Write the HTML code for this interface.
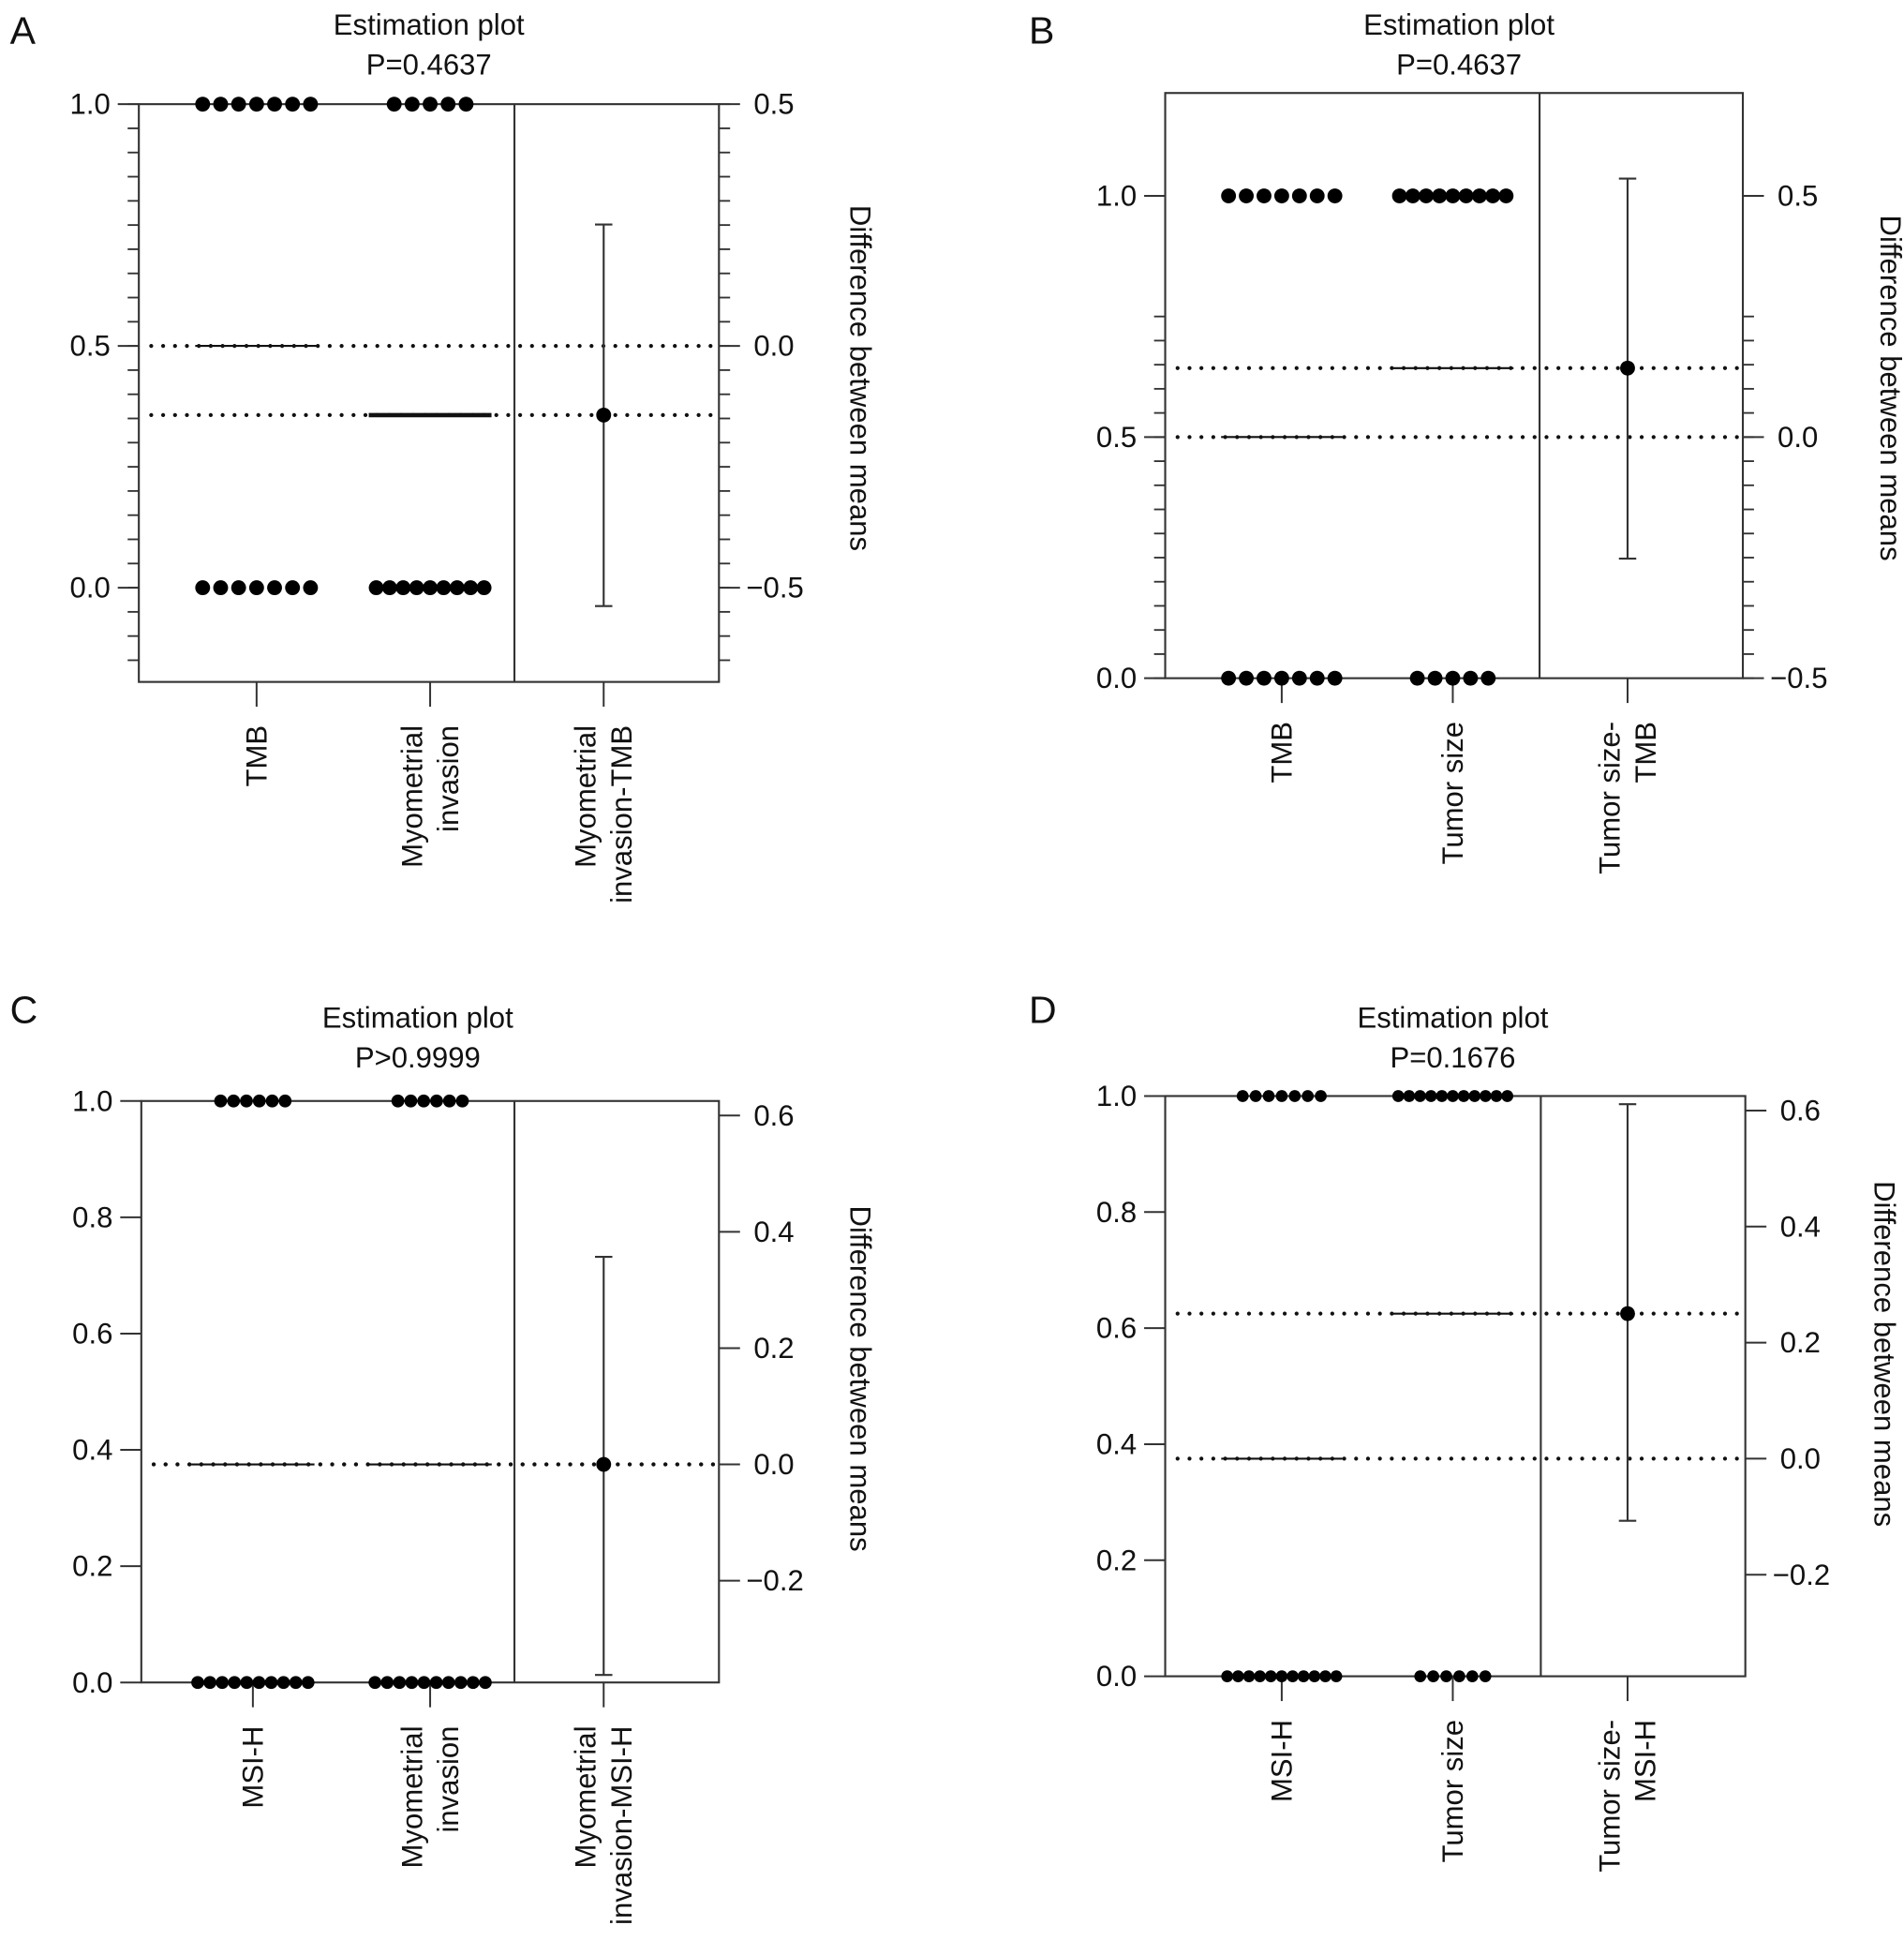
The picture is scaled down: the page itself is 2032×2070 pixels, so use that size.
<!DOCTYPE html>
<html><head><meta charset="utf-8"><style>
html,body{margin:0;padding:0;background:#fff;}
svg{display:block;font-family:"Liberation Sans",Arial,sans-serif;}
</style></head><body>
<svg id="fig" width="2032" height="2070" viewBox="0 0 1536 1564.7" xmlns="http://www.w3.org/2000/svg"></svg>
<script>
// ---- data ----
const panelLetters = ["A","B","C","D"];
const pValues = ["P=0.4637","P=0.4637","P>0.9999","P=0.1676"];
const groupNamesA = [["TMB"],["Myometrial","invasion"],["Myometrial","invasion-TMB"]];
const groupNamesB = [["TMB"],["Tumor size"],["Tumor size-","TMB"]];
const groupNamesC = [["MSI-H"],["Myometrial","invasion"],["Myometrial","invasion-MSI-H"]];
const groupNamesD = [["MSI-H"],["Tumor size"],["Tumor size-","MSI-H"]];
const onesA = [7,5], zerosA = [7,9];
const onesB = [7,9], zerosB = [7,5];
const onesC = [6,6], zerosC = [10,10];
const onesD = [7,11], zerosD = [11,6];
const meansA = [0.5,0.357], meansB = [0.5,0.643], meansC = [0.375,0.375], meansD = [0.375,0.625];
const diffA = [-0.143,-0.538,0.251];
const diffB = [0.143,-0.252,0.536];
const diffC = [0.0,-0.362,0.357];
const diffD = [0.25,-0.107,0.611];
const leftTicksAB = [0,0.5,1.0];
const leftTicksCD = [0,0.2,0.4,0.6,0.8,1.0];
const rightTicksAB = [-0.5,0,0.5];
const rightTicksCD = [-0.2,0,0.2,0.4,0.6];

// ---- layout ----
const layouts = [
 {L:112,R:580,M:415,T:84,B:550,vTop:1.0,vBot:0,yTop:84,yBot:474,off:0.5,minor:0.05,cx:[207,347,487],tx:346,ty:20,lx:8,ly:35,sp:14.5,mw:87,r:6,ax:686,ay:305,
  names:groupNamesA,ones:onesA,zeros:zerosA,means:meansA,diff:diffA,lt:leftTicksAB,rt:rightTicksAB},
 {L:940,R:1406,M:1242,T:75,B:547,vTop:1.0,vBot:0,yTop:158,yBot:547,off:0.5,minor:0.05,cx:[1034,1172,1313],tx:1177,ty:20,lx:830,ly:35,sp:14.3,mw:86,r:6,ax:1517,ay:313,
  names:groupNamesB,ones:onesB,zeros:zerosB,means:meansB,diff:diffB,lt:leftTicksAB,rt:rightTicksAB},
 {L:114,R:580,M:415,T:888,B:1357,vTop:1.0,vBot:0,yTop:888,yBot:1357,off:0.375,minor:0,cx:[204,347,487],tx:337,ty:821,lx:8,ly:825,sp:10.4,mw:89,r:5.2,ax:686,ay:1112,
  names:groupNamesC,ones:onesC,zeros:zerosC,means:meansC,diff:diffC,lt:leftTicksCD,rt:rightTicksCD},
 {L:940,R:1408,M:1243,T:884,B:1352,vTop:1.0,vBot:0,yTop:884,yBot:1352,off:0.375,minor:0,cx:[1034,1172,1313],tx:1172,ty:821,lx:830,ly:825,sp:10.5,mw:88,r:4.8,ax:1512,ay:1092,
  names:groupNamesD,ones:onesD,zeros:zerosD,means:meansD,diff:diffD,lt:leftTicksCD,rt:rightTicksCD}
];
const NS="http://www.w3.org/2000/svg";
const svg=document.getElementById('fig');
function mk(tag,attrs,parent){const e=document.createElementNS(NS,tag);for(const k in attrs)e.setAttribute(k,attrs[k]);(parent||svg).appendChild(e);return e;}
function fmt(v){let s=Math.abs(v).toFixed(1);return (v<-1e-9?"\u2212":"")+s;}
const FS=23.5;

layouts.forEach((p,pi)=>{
  const g=mk('g',{});
  
  
  const y=v=>p.yBot+(v-p.vBot)*(p.yTop-p.yBot)/(p.vTop-p.vBot);
  const yr=v=>y(v+p.off);
  let t=mk('text',{x:p.lx,y:p.ly,'font-size':31,fill:'#111'},g);t.textContent=panelLetters[pi];
  
  t=mk('text',{x:p.tx,y:p.ty+8,'font-size':FS,'text-anchor':'middle',fill:'#111'},g);t.textContent="Estimation plot";
  
  t=mk('text',{x:p.tx,y:p.ty+40,'font-size':FS,'text-anchor':'middle',fill:'#111'},g);t.textContent=pValues[pi];
  
  const box=mk('rect',{x:p.L,y:p.T,width:p.R-p.L,height:p.B-p.T,fill:'none',stroke:'#333','stroke-width':1.6},g);
  
  const dv=mk('line',{x1:p.M,x2:p.M,y1:p.T,y2:p.B,stroke:'#333','stroke-width':1.6},g);
  
  if(p.minor){
    const lo=p.vBot+(p.B-p.yBot)/(p.yTop-p.yBot)*(p.vTop-p.vBot);
    for(let v=Math.ceil(lo/p.minor)*p.minor;v<=p.vTop+(p.yTop-p.T)/(p.yTop-p.yBot)+1e-6;v+=p.minor){
      const yy=y(v); if(yy<p.T-0.5||yy>p.B+0.5)continue;
      mk('line',{x1:p.L-9,x2:p.L,y1:yy,y2:yy,stroke:'#333','stroke-width':1.4},g);
      mk('line',{x1:p.R,x2:p.R+9,y1:yy,y2:yy,stroke:'#333','stroke-width':1.4},g);
    }
  }
  p.lt.forEach(v=>{const yy=y(v);
    mk('line',{x1:p.L-17,x2:p.L,y1:yy,y2:yy,stroke:'#333','stroke-width':1.5},g);
    const tl=mk('text',{x:p.L-23,y:yy+8,'font-size':FS,'text-anchor':'end',fill:'#111'},g);tl.textContent=fmt(v);
    });
  p.rt.forEach(v=>{const yy=yr(v);
    mk('line',{x1:p.R,x2:p.R+17,y1:yy,y2:yy,stroke:'#333','stroke-width':1.5},g);
    const tl=mk('text',{x:p.R+(v<0?22:28),y:yy+8,'font-size':FS,fill:'#111'},g);tl.textContent=fmt(v);
    });
  t=mk('text',{x:p.ax,y:p.ay,'font-size':FS,'text-anchor':'middle',fill:'#111',transform:`rotate(90 ${p.ax} ${p.ay})`},g);
  t.textContent="Difference between means";
  
  p.cx.forEach((cx,ci)=>{
    mk('line',{x1:cx,x2:cx,y1:p.B,y2:p.B+20,stroke:'#333','stroke-width':1.5},g);
    const lines=p.names[ci];
    lines.forEach((ln,li)=>{
      const xx=cx+8+(li-(lines.length-1)/2)*29, yy=p.B+35;
      const tl=mk('text',{x:xx,y:yy,'font-size':FS,'text-anchor':'end',fill:'#111',transform:`rotate(-90 ${xx} ${yy})`},g);
      tl.textContent=ln;
      
    });
  });
  p.means.forEach((m,mi)=>{
    const dl=mk('line',{x1:p.L+10,x2:p.R-2,y1:y(m),y2:y(m),stroke:'#111','stroke-width':3.2,'stroke-dasharray':'0 9.6','stroke-linecap':'round'},g);
    
  });
  [0,1].forEach(gi=>{
    const cx=p.cx[gi];
    const spc=n=>n>1?Math.min(p.sp,p.mw/(n-1)):0;
    const drawRow=(n,v)=>{const s=spc(n);for(let k=0;k<n;k++){
      const c=mk('circle',{cx:cx+(k-(n-1)/2)*s,cy:y(v),r:p.r,fill:'#000'},g);
      }};
    drawRow(p.ones[gi],1);drawRow(p.zeros[gi],0);
    const n1=p.ones[gi],n0=p.zeros[gi];
    const hw=Math.max((n1-1)/2*spc(n1),(n0-1)/2*spc(n0))+p.r;
    const ml=mk('line',{x1:cx-hw,x2:cx+hw,y1:y(p.means[gi]),y2:y(p.means[gi]),stroke:'#111','stroke-width':gi==1&&pi==0?3.5:1.6},g);
    
  });
  const dx=p.cx[2];
  const eb=mk('line',{x1:dx,x2:dx,y1:yr(p.diff[2]),y2:yr(p.diff[1]),stroke:'#333','stroke-width':1.6},g);
  
  [p.diff[1],p.diff[2]].forEach(v=>mk('line',{x1:dx-7,x2:dx+7,y1:yr(v),y2:yr(v),stroke:'#333','stroke-width':1.6},g));
  const dd=mk('circle',{cx:dx,cy:yr(p.diff[0]),r:6,fill:'#000'},g);
  
});
</script>
</body></html>
